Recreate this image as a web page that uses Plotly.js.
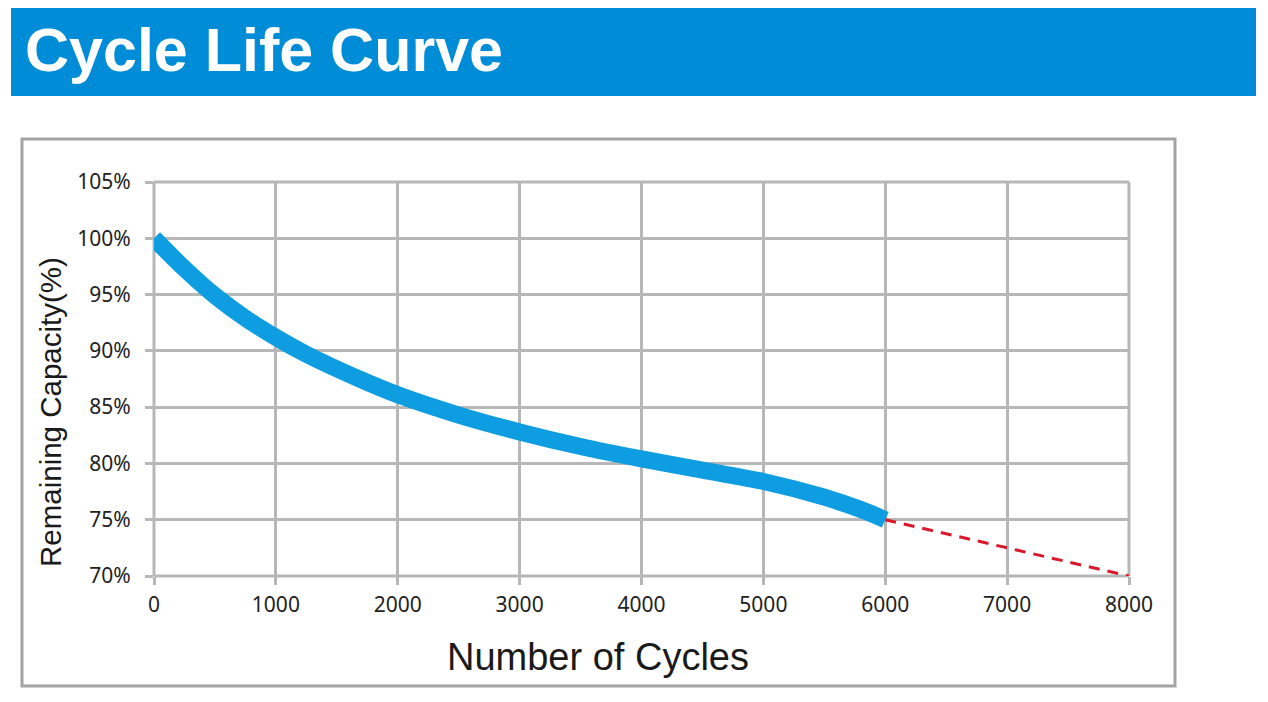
<!DOCTYPE html>
<html>
<head>
<meta charset="utf-8">
<script src="https://cdn.plot.ly/plotly-3.0.1.min.js"></script>
<style>html,body{margin:0;padding:0;background:#fff;}#chart{width:1268px;height:702px;}</style>
</head>
<body>
<div id="chart"></div>
<script>
const cycles = [0, 250, 500, 750, 1000, 1250, 1500, 1750, 2000, 2500, 3000, 3500, 4000, 4500, 5000, 5500, 5800, 6000];
const capacity = [100, 97.3, 94.9, 92.9, 91.2, 89.7, 88.4, 87.2, 86.1, 84.3, 82.8, 81.5, 80.4, 79.4, 78.4, 77.0, 75.9, 75.0];
const projCycles = [6000, 8000];
const projCapacity = [75, 70];
const xTicks = [0, 1000, 2000, 3000, 4000, 5000, 6000, 7000, 8000];
const yTicks = [70, 75, 80, 85, 90, 95, 100, 105];
const yTickText = yTicks.map(v => v + '%');
const xMin = 0, xMax = 8000, yMin = 70, yMax = 105;

const W = 1268, H = 702;
const L = 154, R = 1129, T = 182, B = 576;
const px = v => (v - L) / (R - L);
const py = v => (B - v) / (B - T);
const GRID = '#b7b7b7';

const traces = [
  {x: cycles, y: capacity, mode: 'lines', line: {color: '#0d9de0', width: 17, shape: 'spline', smoothing: 1}, cliponaxis: false, hoverinfo: 'x+y'},
  {x: projCycles, y: projCapacity, mode: 'lines', line: {color: '#d9182b', width: 3, dash: '11px,8px'}, cliponaxis: false}
];

// plot-area frame lines (edge grid lines that Plotly skips at the range ends)
const edgeLine = (x0, y0, x1, y1) => ({type: 'line', xref: 'paper', yref: 'paper', x0, y0, x1, y1, line: {color: GRID, width: 3}, layer: 'below'});

const layout = {
  width: W, height: H,
  margin: {l: L, r: W - R, t: T, b: H - B},
  paper_bgcolor: '#ffffff', plot_bgcolor: '#ffffff',
  showlegend: false,
  font: {family: 'Noto Sans, Arial, sans-serif', color: '#222222'},
  xaxis: {
    range: [xMin, xMax], tickvals: xTicks, ticktext: xTicks.map(String),
    showgrid: true, gridcolor: GRID, gridwidth: 3,
    zeroline: false, showline: false,
    ticks: 'outside', ticklen: 8, tickwidth: 3, tickcolor: GRID,
    ticklabelstandoff: 2,
    tickfont: {size: 21, family: 'Noto Sans, sans-serif', color: '#222'},
    automargin: false, fixedrange: true
  },
  yaxis: {
    range: [yMin, yMax], tickvals: yTicks, ticktext: yTickText,
    showgrid: true, gridcolor: GRID, gridwidth: 3,
    zeroline: false, showline: false,
    ticks: 'outside', ticklen: 8, tickwidth: 3, tickcolor: GRID,
    ticklabelstandoff: 10,
    tickfont: {size: 21, family: 'Noto Sans, sans-serif', color: '#222'},
    automargin: false, fixedrange: true
  },
  shapes: [
    {type: 'rect', xref: 'paper', yref: 'paper', x0: px(11), x1: px(1256), y0: py(96), y1: py(8), fillcolor: '#008cd6', line: {width: 0}, layer: 'below'},
    {type: 'rect', xref: 'paper', yref: 'paper', x0: px(22), x1: px(1175), y0: py(686), y1: py(139), fillcolor: 'rgba(0,0,0,0)', line: {color: '#a3a3a3', width: 3}, layer: 'below'},
    edgeLine(0, 0, 0, 1),
    edgeLine(1, 0, 1, 1),
    edgeLine(0, 0, 1, 0),
    edgeLine(0, 1, 1, 1)
  ],
  annotations: [
    {xref: 'paper', yref: 'paper', x: px(23), y: py(50), xanchor: 'left', yanchor: 'middle', showarrow: false,
     text: '<b>Cycle Life Curve</b>', font: {size: 61, family: 'Liberation Sans, Arial, sans-serif', color: '#ffffff'}},
    {xref: 'paper', yref: 'paper', x: px(598), y: py(657), xanchor: 'center', yanchor: 'middle', showarrow: false,
     text: 'Number of Cycles', font: {size: 38, family: 'Liberation Sans, Arial, sans-serif', color: '#1a1a1a'}},
    {xref: 'paper', yref: 'paper', x: px(50), y: py(412), xanchor: 'center', yanchor: 'middle', showarrow: false, textangle: -90,
     text: 'Remaining Capacity(%)', font: {size: 29.5, family: 'Liberation Sans, Arial, sans-serif', color: '#1a1a1a'}}
  ]
};

Plotly.newPlot('chart', traces, layout, {displayModeBar: false});
</script>
</body>
</html>
